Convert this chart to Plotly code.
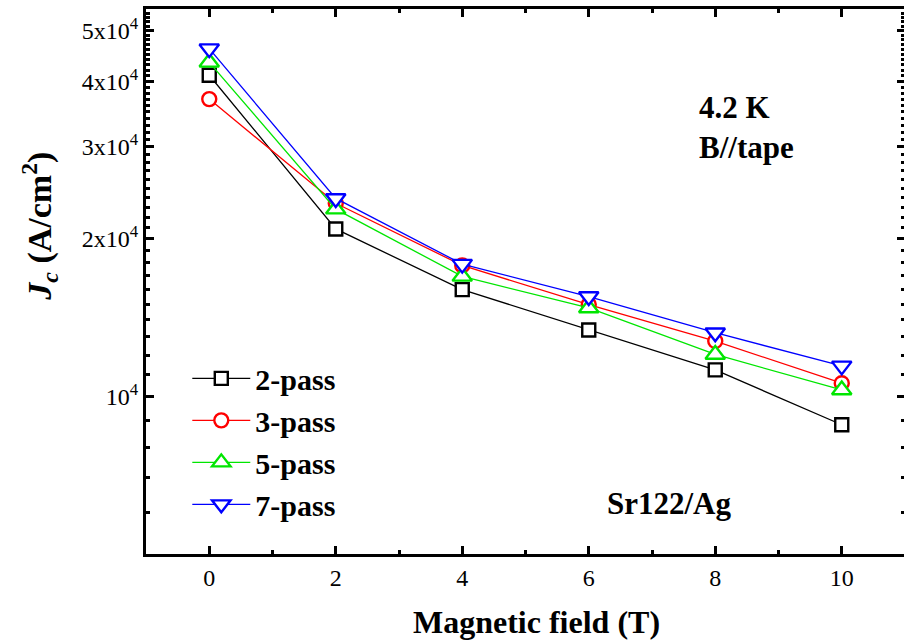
import plotly.graph_objects as go

field = [0, 2, 4, 6, 8, 10]
jc_2pass = [41100, 20900, 16000, 13400, 11240, 8830]
jc_3pass = [37000, 23400, 17800, 14980, 12760, 10600]
jc_5pass = [43500, 22800, 16960, 14760, 12030, 10290]
jc_7pass = [46200, 23900, 17900, 15520, 13240, 11440]

series_names = ["2-pass", "3-pass", "5-pass", "7-pass"]
series_vals = [jc_2pass, jc_3pass, jc_5pass, jc_7pass]
colors = ["#000000", "#ff0000", "#00e600", "#0000ff"]
symbols = ["square", "circle", "triangle-up", "triangle-down"]
sizes = [13, 14, 17, 17]

y_tickvals = [10000, 20000, 30000, 40000, 50000]
y_ticktext = ["10<sup>4</sup>", "2x10<sup>4</sup>", "3x10<sup>4</sup>", "4x10<sup>4</sup>", "5x10<sup>4</sup>"]
y_minor = [6000, 7000, 8000, 9000] + [v for v in range(11000, 55000, 1000) if v % 10000 != 0]

FONT = "Liberation Serif, Times New Roman, Tinos, DejaVu Serif, serif"

fig = go.Figure()
for name, vals, c, s, sz in zip(series_names, series_vals, colors, symbols, sizes):
    fig.add_trace(go.Scatter(
        x=field, y=vals, name="<b>" + name + "</b>", mode="lines+markers",
        line=dict(color=c, width=1.3),
        marker=dict(symbol=s, size=sz, color="white", line=dict(color=c, width=2.4)),
    ))

fig.update_layout(
    width=909, height=642,
    margin=dict(l=146, r=1, t=9, b=88),
    plot_bgcolor="white", paper_bgcolor="white",
    font=dict(family=FONT, size=24, color="black"),
    showlegend=True,
    legend=dict(
        x=0.0544, y=0.37, xanchor="left", yanchor="top",
        bgcolor="rgba(0,0,0,0)",
        font=dict(family=FONT, size=30, color="black"),
        itemwidth=58, tracegroupgap=0,
    ),
    xaxis=dict(
        range=[-1, 11], tickvals=[0, 2, 4, 6, 8, 10],
        ticks="inside", ticklen=8, tickwidth=2.5, tickcolor="black",
        showline=True, linewidth=3, linecolor="black", mirror="allticks",
        showgrid=False, zeroline=False,
        minor=dict(tickvals=[1, 3, 5, 7, 9], ticks="inside", ticklen=4, tickwidth=2.5, tickcolor="black", showgrid=False),
        tickfont=dict(family=FONT, size=24, color="black"),
    ),
    yaxis=dict(
        type="log", range=[3.69897, 4.7404],
        tickvals=y_tickvals, ticktext=y_ticktext,
        ticks="inside", ticklen=8, tickwidth=2.5, tickcolor="black",
        showline=True, linewidth=3, linecolor="black", mirror="allticks",
        showgrid=False, zeroline=False,
        minor=dict(tickvals=y_minor, ticks="inside", ticklen=4, tickwidth=2.5, tickcolor="black", showgrid=False),
        tickfont=dict(family=FONT, size=24, color="black"),
    ),
)

# axis titles
fig.add_annotation(x=0.515, y=-0.125, xref="paper", yref="paper", xanchor="center", yanchor="middle",
                   text="<b>Magnetic field (T)</b>", showarrow=False,
                   font=dict(family=FONT, size=32, color="black"))
fig.add_annotation(x=-0.14, y=0.602, xref="paper", yref="paper", xanchor="center", yanchor="middle",
                   textangle=-90, text="<b><i>J</i><sub><i>c</i></sub> (A/cm<sup>2</sup>)</b>", showarrow=False,
                   font=dict(family=FONT, size=34, color="black"))

# in-plot labels
fig.add_annotation(x=0.726, y=0.819, xref="paper", yref="paper", xanchor="left", yanchor="middle",
                   text="<b>4.2 K</b>", showarrow=False, font=dict(family=FONT, size=31, color="black"))
fig.add_annotation(x=0.726, y=0.746, xref="paper", yref="paper", xanchor="left", yanchor="middle",
                   text="<b>B//tape</b>", showarrow=False, font=dict(family=FONT, size=31, color="black"))
fig.add_annotation(x=0.69, y=0.093, xref="paper", yref="paper", xanchor="center", yanchor="middle",
                   text="<b>Sr122/Ag</b>", showarrow=False, font=dict(family=FONT, size=31, color="black"))

fig.write_html("out.html", config={"displayModeBar": False},
               post_script="document.body.style.margin='0';document.body.style.overflow='hidden';")
